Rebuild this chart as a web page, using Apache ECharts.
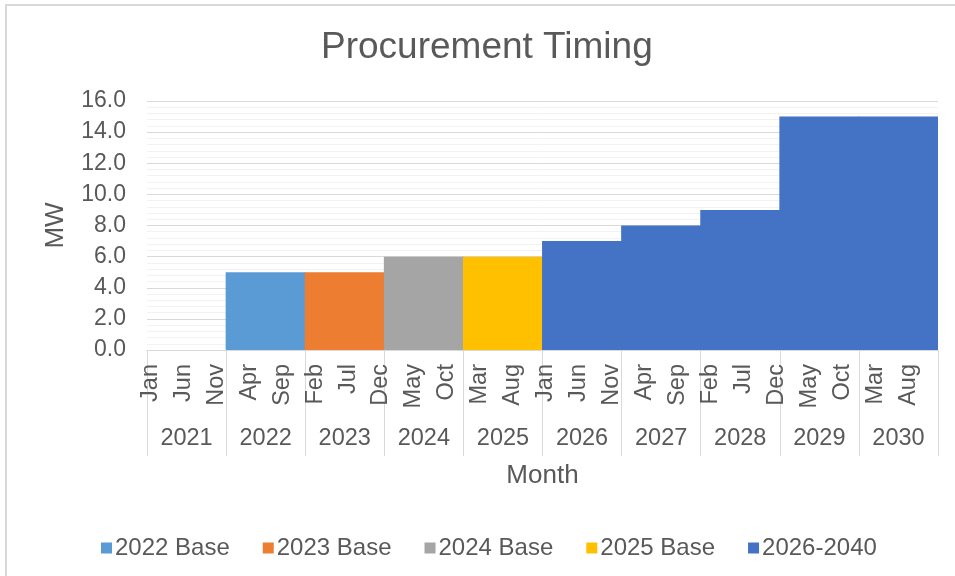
<!DOCTYPE html>
<html>
<head>
<meta charset="utf-8">
<script src="https://cdn.jsdelivr.net/npm/echarts@6/dist/echarts.min.js"></script>
<style>
  html, body { margin: 0; padding: 0; background: #fff; }
  #chart { width: 955px; height: 576px; }
</style>
</head>
<body>
<div id="chart"></div>
<script>
// category labels
const years = ['2021', '2022', '2023', '2024', '2025', '2026', '2027', '2028', '2029', '2030'];
const monthNames = ['Jan', 'Feb', 'Mar', 'Apr', 'May', 'Jun', 'Jul', 'Aug', 'Sep', 'Oct', 'Nov', 'Dec'];
const months = years.flatMap(() => monthNames);

// MW per year (one value holds for every month of that year)
const base2022 = ['-', 5, '-', '-', '-', '-', '-', '-', '-', '-'];
const base2023 = ['-', '-', 5, '-', '-', '-', '-', '-', '-', '-'];
const base2024 = ['-', '-', '-', 6, '-', '-', '-', '-', '-', '-'];
const base2025 = ['-', '-', '-', '-', 6, '-', '-', '-', '-', '-'];
const base2026to2040 = ['-', '-', '-', '-', '-', 7, 8, 9, 15, 15];

const seriesNames = ['2022 Base', '2023 Base', '2024 Base', '2025 Base', '2026-2040'];
const seriesData = [base2022, base2023, base2024, base2025, base2026to2040];
const colors = ['#5B9BD5', '#ED7D31', '#A5A5A5', '#FFC000', '#4472C4'];

const font = 'Liberation Sans, Arial, sans-serif';
const textColor = '#595959';

const chart = echarts.init(document.getElementById('chart'), null, { renderer: 'canvas' });

chart.setOption({
  animation: false,
  color: colors,
  textStyle: { fontFamily: font, color: textColor },
  title: {
    text: 'Procurement Timing',
    left: 316,
    top: 24,
    textStyle: { fontFamily: font, fontSize: 37, fontWeight: 'normal', color: textColor }
  },
  graphic: [{
    type: 'rect',
    shape: { x: 6, y: 5, width: 1000, height: 1000 },
    style: { fill: 'none', stroke: '#d9d9d9', lineWidth: 2 },
    silent: true
  }],
  legend: {
    left: 96,
    top: 531,
    icon: 'rect',
    itemWidth: 11,
    itemHeight: 11,
    itemGap: 33,
    textStyle: { fontFamily: font, fontSize: 24, color: textColor, padding: [0, 0, 0, -2] },
    data: seriesNames
  },
  grid: { left: 147, right: 17, top: 101, bottom: 226, containLabel: false },
  xAxis: [{
    type: 'category',
    position: 'bottom',
    data: months,
    name: 'Month',
    nameLocation: 'middle',
    nameGap: 113,
    nameTextStyle: { fontFamily: font, fontSize: 26, color: textColor },
    axisLine: { show: true, lineStyle: { color: '#d9d9d9', width: 1 } },
    axisTick: { show: false },
    axisLabel: {
      interval: 4,
      rotate: 90,
      margin: 14,
      fontFamily: font,
      fontSize: 23.5,
      color: textColor
    },
    splitLine: { show: false }
  }, {
    type: 'category',
    position: 'bottom',
    offset: 0,
    data: years,
    axisLine: { show: false },
    axisTick: { show: true, interval: 0, length: 106, lineStyle: { color: '#d9d9d9', width: 1 } },
    axisLabel: { interval: 0, margin: 77, fontFamily: font, fontSize: 23.5, color: textColor },
    splitLine: { show: false }
  }],
  yAxis: {
    type: 'value',
    min: 0,
    max: 16,
    interval: 2,
    name: 'MW',
    nameLocation: 'middle',
    nameGap: 78,
    nameTextStyle: { fontFamily: font, fontSize: 26, color: textColor },
    axisLine: { show: false },
    axisTick: { show: false },
    axisLabel: {
      margin: 21,
      fontFamily: font,
      fontSize: 23,
      color: textColor,
      formatter: v => v.toFixed(1)
    },
    splitLine: { show: true, lineStyle: { color: '#d9d9d9', width: 1 } },
    minorTick: { show: false, splitNumber: 5 },
    minorSplitLine: { show: true, lineStyle: { color: '#f2f2f2', width: 1 } }
  },
  series: seriesNames.map((name, i) => ({
    name: name,
    type: 'bar',
    xAxisIndex: 1,
    stack: 'mw',
    barWidth: 80,
    data: seriesData[i],
    itemStyle: { color: colors[i] }
  }))
});
</script>
</body>
</html>
